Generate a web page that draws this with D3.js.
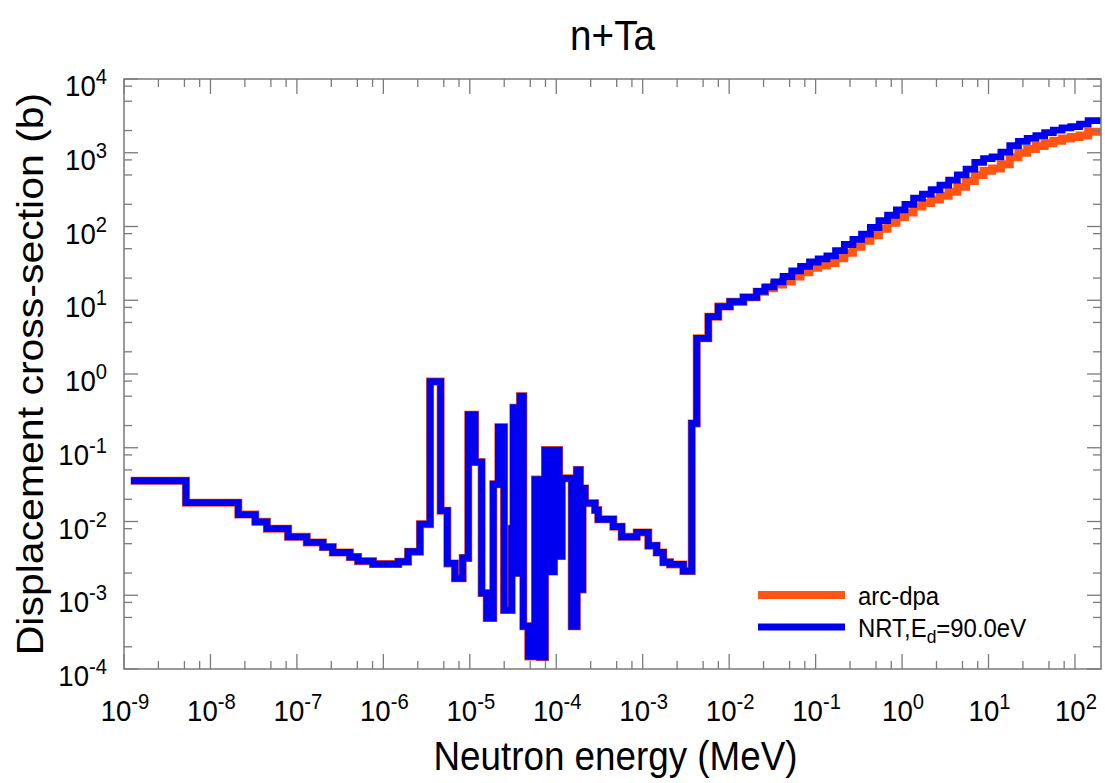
<!DOCTYPE html>
<html>
<head>
<meta charset="utf-8">
<script src="https://cdn.jsdelivr.net/npm/d3@7"></script>
<style>
  html, body { margin: 0; padding: 0; background: #fff; }
  svg { display: block; }
  text { font-family: "Liberation Sans", Arial, sans-serif; fill: #000; }
</style>
</head>
<body>
<svg id="chart" width="1105" height="783"></svg>
<script>
// ---------------- DATA ----------------
const chartTitle = "n+Ta";
const xAxisTitle = "Neutron energy (MeV)";
const yAxisTitle = "Displacement cross-section (b)";
const seriesNames = ["arc-dpa", "NRT,E", "d", "=90.0eV"];

// group boundaries (MeV), N+1 values
const energyEdges = [
  1.2e-9, 5.2e-9, 2.1e-8, 3.3e-8, 4.5e-8, 7.9e-8, 1.3e-7, 2.0e-7, 2.6e-7, 4.1e-7,
  5.1e-7, 7.6e-7, 1.49e-6, 1.93e-6, 2.65e-6, 3.47e-6, 4.6e-6, 5.5e-6, 6.74e-6, 8.28e-6,
  9.6e-6, 1.15e-5, 1.37e-5, 1.57e-5, 1.87e-5, 2.14e-5, 2.49e-5, 3.05e-5, 3.19e-5, 3.49e-5,
  3.81e-5, 4.16e-5, 4.75e-5, 5.68e-5, 6.49e-5, 7.41e-5, 8.63e-5, 9.42e-5, 1.08e-4, 1.16e-4,
  1.51e-4, 1.73e-4, 1.88e-4, 2.02e-4, 2.15e-4, 2.81e-4, 3.06e-4, 4.57e-4, 5.71e-4, 8.53e-4,
  1.16e-3, 1.45e-3, 1.73e-3, 2.07e-3, 2.95e-3, 3.69e-3, 4.22e-3, 5.74e-3, 7.48e-3, 1.02e-2,
  1.46e-2, 2.08e-2, 2.6e-2, 3.3e-2, 4.2e-2, 5.3e-2, 6.7e-2, 8.5e-2, 0.107, 0.135,
  0.17, 0.215, 0.27, 0.34, 0.43, 0.54, 0.68, 0.86, 1.08, 1.36,
  1.72, 2.17, 2.74, 3.46, 4.36, 5.5, 6.94, 8.76, 11.0, 13.9,
  17.6, 22.2, 28, 35.3, 44.6, 56.2, 70.9, 89.5, 113, 142,
  200
];

// NRT (Ed = 90 eV) displacement cross-section per group (b)
const nrtValues = [
  0.0357, 0.018, 0.0124, 0.0099, 0.008, 0.0062, 0.0052, 0.0045, 0.0038, 0.0033,
  0.0029, 0.00265, 0.00285, 0.0039, 0.0092, 0.79, 0.014, 0.0027, 0.0017, 0.0032,
  0.28, 0.064, 0.00107, 0.00049, 0.032, 0.19, 0.00063, 0.008, 0.35, 0.002,
  0.50, 0.00038, 0.000148, 0.037, 0.000145, 0.093, 0.0021, 0.093, 0.0034, 0.0385,
  0.00038, 0.050, 0.0012, 0.028, 0.0177, 0.0143, 0.0107, 0.0085, 0.0062, 0.0071,
  0.0047, 0.0038, 0.0028, 0.00262, 0.00213, 0.214, 3.05, 5.98, 8.2, 9.55,
  10.96, 13.2, 15.2, 17.8, 21.0, 25.0, 28.8, 33.0, 36.5, 40.0,
  47, 57, 67, 79, 97, 120, 142, 168, 200, 243,
  275, 315, 365, 425, 500, 600, 740, 830, 880, 1020,
  1250, 1430, 1570, 1700, 1870, 2030, 2180, 2260, 2450, 2720
];

// arc-dpa displacement cross-section per group (b)
const arcDpaValues = [
  0.0357, 0.018, 0.0124, 0.0099, 0.008, 0.0062, 0.0052, 0.0045, 0.0038, 0.0033,
  0.0029, 0.00265, 0.00285, 0.0039, 0.0092, 0.79, 0.014, 0.0027, 0.0017, 0.0032,
  0.28, 0.064, 0.00107, 0.00049, 0.032, 0.19, 0.00063, 0.008, 0.35, 0.002,
  0.50, 0.00038, 0.000148, 0.037, 0.000145, 0.093, 0.0021, 0.093, 0.0034, 0.0385,
  0.00038, 0.050, 0.0012, 0.028, 0.0177, 0.0143, 0.0107, 0.0085, 0.0062, 0.0071,
  0.0047, 0.0038, 0.0028, 0.00262, 0.00213, 0.214, 3.05, 5.98, 8.2, 9.55,
  10.96, 13.0, 14.6, 16.3, 18.0, 21.0, 24.0, 27.5, 29.5, 32.0,
  37, 44, 53, 64, 76, 93, 112, 135, 155, 186,
  208, 232, 262, 295, 345, 415, 500, 570, 610, 700,
  870, 1000, 1120, 1230, 1350, 1460, 1560, 1640, 1720, 1930
];

const xMajorExps = [-9, -8, -7, -6, -5, -4, -3, -2, -1, 0, 1, 2];
const yMajorExps = [-4, -3, -2, -1, 0, 1, 2, 3, 4];
const xMinorMantissas = [2.5, 5, 7.5];
const yMinorMantissas = [2, 5, 8];
const xDomain = [1e-9, 200];
const yDomain = [1e-4, 1e4];

// ---------------- LAYOUT ----------------
const plot = { left: 124, right: 1101, top: 79, bottom: 669 };
const squeeze = 0.92; // horizontal text compression seen in the reference
const svg = d3.select("#chart");

const x = d3.scaleLog().domain(xDomain).range([plot.left, plot.right]);
const y = d3.scaleLog().domain(yDomain).range([plot.bottom, plot.top]);

const axisColor = "#7a7a7a";

function stepPoints(values) {
  const pts = values.map((v, i) => [energyEdges[i], v]);
  pts.push([energyEdges[energyEdges.length - 1], values[values.length - 1]]);
  return pts;
}
const line = d3.line()
  .x(d => x(d[0]))
  .y(d => y(d[1]))
  .curve(d3.curveStepAfter);

const gData = svg.append("g");
gData.append("path")
  .attr("d", line(stepPoints(arcDpaValues)))
  .attr("fill", "none")
  .attr("stroke", "#ff5412")
  .attr("stroke-width", 8)
  .attr("stroke-linejoin", "miter");
gData.append("path")
  .attr("d", line(stepPoints(nrtValues)))
  .attr("fill", "none")
  .attr("stroke", "#0000f0")
  .attr("stroke-width", 6.8)
  .attr("stroke-linejoin", "miter");

// frame
svg.append("rect")
  .attr("x", plot.left).attr("y", plot.top)
  .attr("width", plot.right - plot.left).attr("height", plot.bottom - plot.top)
  .attr("fill", "none").attr("stroke", axisColor).attr("stroke-width", 1.5);

// ticks
const gTicks = svg.append("g").attr("stroke", axisColor).attr("stroke-width", 1.3);
const xMajor = xMajorExps.map(e => Math.pow(10, e));
const xMinor = [];
xMajorExps.forEach(e => xMinorMantissas.forEach(m => {
  const v = m * Math.pow(10, e);
  if (v > xDomain[0] && v < xDomain[1]) xMinor.push(v);
}));
const yMajor = yMajorExps.map(e => Math.pow(10, e));
const yMinor = [];
yMajorExps.forEach(e => yMinorMantissas.forEach(m => {
  const v = m * Math.pow(10, e);
  if (v > yDomain[0] && v < yDomain[1]) yMinor.push(v);
}));

function xTick(v, len) {
  gTicks.append("line").attr("x1", x(v)).attr("x2", x(v))
    .attr("y1", plot.bottom).attr("y2", plot.bottom - len);
  gTicks.append("line").attr("x1", x(v)).attr("x2", x(v))
    .attr("y1", plot.top).attr("y2", plot.top + len);
}
function yTick(v, len) {
  gTicks.append("line").attr("y1", y(v)).attr("y2", y(v))
    .attr("x1", plot.left).attr("x2", plot.left + len);
  gTicks.append("line").attr("y1", y(v)).attr("y2", y(v))
    .attr("x1", plot.right).attr("x2", plot.right - len);
}
xMajor.forEach(v => xTick(v, 15));
xMinor.forEach(v => xTick(v, 8));
yMajor.forEach(v => yTick(v, 14));
yMinor.forEach(v => yTick(v, 8));

// squeezed text helper
function sText(px, py, anchor, size) {
  return svg.append("text")
    .attr("transform", `translate(${px},${py}) scale(${squeeze},1)`)
    .attr("text-anchor", anchor)
    .attr("font-size", size);
}
function powLabel(sel, exp) {
  sel.append("tspan").text("10");
  sel.append("tspan").attr("dy", -12).attr("font-size", 22).text(String(exp));
}
xMajorExps.forEach(e => {
  powLabel(sText(x(Math.pow(10, e)) + 1, 721, "middle", 30), e);
});
yMajorExps.forEach(e => {
  powLabel(sText(107, y(Math.pow(10, e)) + 17, "end", 30), e);
});

// titles
sText((plot.left + plot.right) / 2, 50, "middle", 42).text(chartTitle);
sText((plot.left + plot.right) / 2 + 3, 770, "middle", 40).text(xAxisTitle);
svg.append("text")
  .attr("transform", `translate(43, ${(plot.top + plot.bottom) / 2}) rotate(-90) scale(1, ${squeeze})`)
  .attr("text-anchor", "middle").attr("font-size", 41)
  .text(yAxisTitle);

// legend
const lg = svg.append("g");
lg.append("line").attr("x1", 758).attr("x2", 845).attr("y1", 595).attr("y2", 595)
  .attr("stroke", "#ff5412").attr("stroke-width", 8);
lg.append("line").attr("x1", 758).attr("x2", 845).attr("y1", 627).attr("y2", 627)
  .attr("stroke", "#0000f0").attr("stroke-width", 6.8);
sText(858, 605, "start", 26).text(seriesNames[0]);
const t2 = sText(858, 637, "start", 26);
t2.append("tspan").text(seriesNames[1]);
t2.append("tspan").attr("dy", 6).attr("font-size", 19).text(seriesNames[2]);
t2.append("tspan").attr("dy", -6).text(seriesNames[3]);
</script>
</body>
</html>
